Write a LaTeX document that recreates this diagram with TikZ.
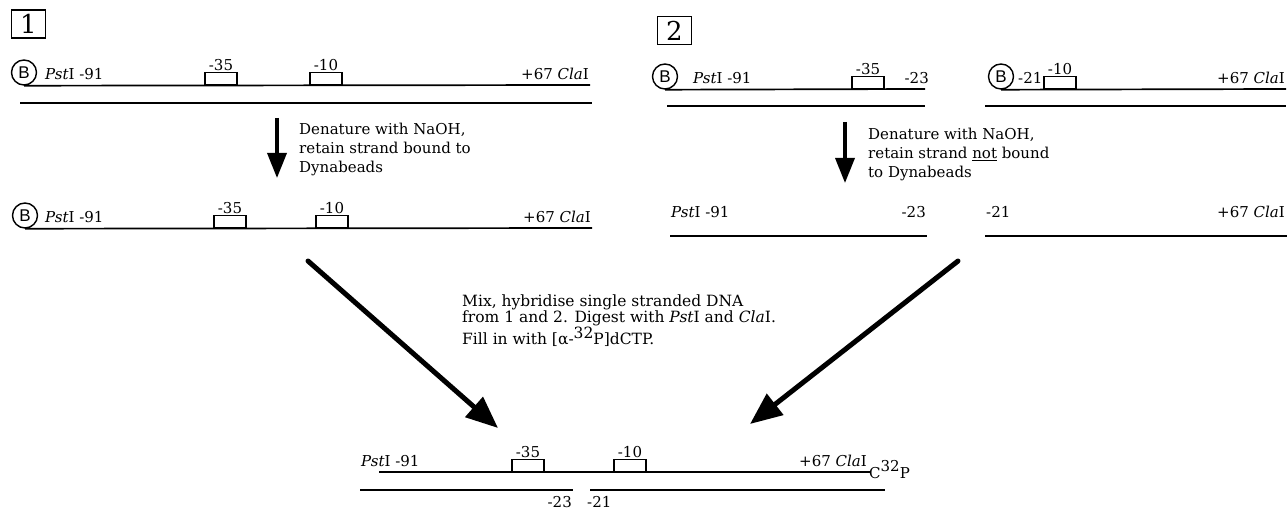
\documentclass[tikz,border=0pt]{standalone}
\usepackage{fontspec}
\setmainfont{DejaVu Serif}
\setsansfont{Liberation Sans}
\usetikzlibrary{arrows.meta,positioning}
\tikzset{
  strand/.style={line width=1.7pt},
  pbox/.style={draw, line width=1.4pt, minimum width=32pt, minimum height=12pt,
               inner sep=0pt, anchor=south},
  bead/.style={draw, circle, line width=1.4pt, minimum size=25pt, inner sep=0pt,
               font=\fontsize{17}{17}\selectfont\sffamily},
  lbl/.style={font=\fontsize{15}{17}\selectfont, inner sep=1pt},
  panelno/.style={draw, line width=1.3pt, minimum width=34pt, minimum height=28pt,
                  inner sep=0pt, font=\fontsize{26}{26}\selectfont},
  steptext/.style={font=\fontsize{15}{19}\selectfont, align=left, anchor=north west, inner sep=0pt},
  downarrow/.style={-{Triangle[length=25pt,width=19pt]}, line width=3.5pt},
  bigarrow/.style={-{Triangle[length=32pt,width=26pt]}, line width=5pt, line cap=round},
}

\begin{document}
\begin{tikzpicture}[x=1pt, y=-1pt]
\useasboundingbox (0,0) rectangle (1288,510);

% Panel 1: duplex on beads
\node[panelno] (no1) at (28.5,24) {1};
\node[bead] (b1) at (24,72.5) {B};
\draw[strand] (b1.south) -- (590,85);
\draw[strand] (20,103) -- (592,103);
\node[lbl, anchor=base west] (pst1) at (44,80) {\textit{Pst}I -91};
\node[pbox, label={[lbl]above:-35}] (m35a) at (221,85) {};
\node[pbox, label={[lbl]above:-10}] (m10a) at (326,85) {};
\node[lbl, anchor=base east] (cla1) at (590,80) {+67 \textit{Cla}I};

% denature, keep bound strand
\coordinate (d1top) at (277,118);
\coordinate (d1tip) at (277,178);
\draw[downarrow] (d1top) -- (d1tip);
\node[steptext] (txt1) at (299,123) {Denature with NaOH,\\retain strand bound to\\Dynabeads};

% Panel 1: single strand on beads
\node[bead] (b2) at (25,215.5) {B};
\draw[strand] (b2.south) -- (592,228);
\node[lbl, anchor=base west] (pst2) at (44,223) {\textit{Pst}I -91};
\node[pbox, label={[lbl]above:-35}] (m35b) at (230,228) {};
\node[pbox, label={[lbl]above:-10}] (m10b) at (332,228) {};
\node[lbl, anchor=base east] (cla2) at (592,223) {+67 \textit{Cla}I};

% Panel 2: two duplexes on beads
\node[panelno] (no2) at (674.5,30.5) {2};
\node[bead] (b3) at (665,76.5) {B};
\draw[strand] (b3.south) -- (925,89);
\draw[strand] (667,106) -- (925,106);
\node[lbl, anchor=base west] (pst3) at (692,84) {\textit{Pst}I -91};
\node[pbox, label={[lbl]above:-35}] (m35c) at (868,89) {};
\node[lbl, anchor=base east] (e23a) at (930,84) {-23};
\node[bead] (b4) at (1001,76.5) {B};
\draw[strand] (b4.south) -- (1286,89);
\draw[strand] (985,106) -- (1286,106);
\node[lbl, anchor=base west] (e21a) at (1017,84) {-21};
\node[pbox, label={[lbl]above:-10}] (m10c) at (1060,89) {};
\node[lbl, anchor=base east] (cla3) at (1286,84) {+67 \textit{Cla}I};

% denature, keep free strand
\coordinate (d2top) at (845,122);
\coordinate (d2tip) at (845,183);
\draw[downarrow] (d2top) -- (d2tip);
\node[steptext] (txt2) at (868,128) {Denature with NaOH,\\retain strand \underline{not} bound\\to Dynabeads};

% Panel 2: free strands
\node[lbl, anchor=base west] (pst4) at (670,218) {\textit{Pst}I -91};
\node[lbl, anchor=base east] (e23b) at (927,218) {-23};
\draw[strand] (670,236) -- (927,236);
\node[lbl, anchor=base west] (e21b) at (985,218) {-21};
\node[lbl, anchor=base east] (cla4) at (1286,218) {+67 \textit{Cla}I};
\draw[strand] (985,236) -- (1287,236);

% mix and hybridise
\coordinate (m1a) at (308,261);
\coordinate (m1b) at (498,428);
\coordinate (m2a) at (958,261);
\coordinate (m2b) at (750,424);
\draw[bigarrow] (m1a) -- (m1b);
\draw[bigarrow] (m2a) -- (m2b);
\node[steptext, font=\fontsize{15.5}{15.5}\selectfont] (txt3) at (462,295)
  {Mix, hybridise single stranded DNA\\from 1 and 2. Digest with \textit{Pst}I and \textit{Cla}I.\\Fill in with [α-\raisebox{0.4em}{32}P]dCTP.};

% hybrid product
\draw[strand] (379,472) -- (870,472);
\node[lbl, anchor=base west] (pst5) at (360,467) {\textit{Pst}I -91};
\node[pbox, label={[lbl]above:-35}] (m35d) at (528,472) {};
\node[pbox, label={[lbl]above:-10}] (m10d) at (630,472) {};
\node[lbl, anchor=base east] (cla5) at (868,467) {+67 \textit{Cla}I};
\node[lbl, anchor=base west] (lab32) at (868,478) {C\raisebox{0.45em}{32}P};
\draw[strand] (360,490) -- (573,490);
\draw[strand] (590,490) -- (885,490);
\node[lbl, anchor=base east] (e23c) at (573,507) {-23};
\node[lbl, anchor=base west] (e21c) at (586,507) {-21};

\end{tikzpicture}
\end{document}
